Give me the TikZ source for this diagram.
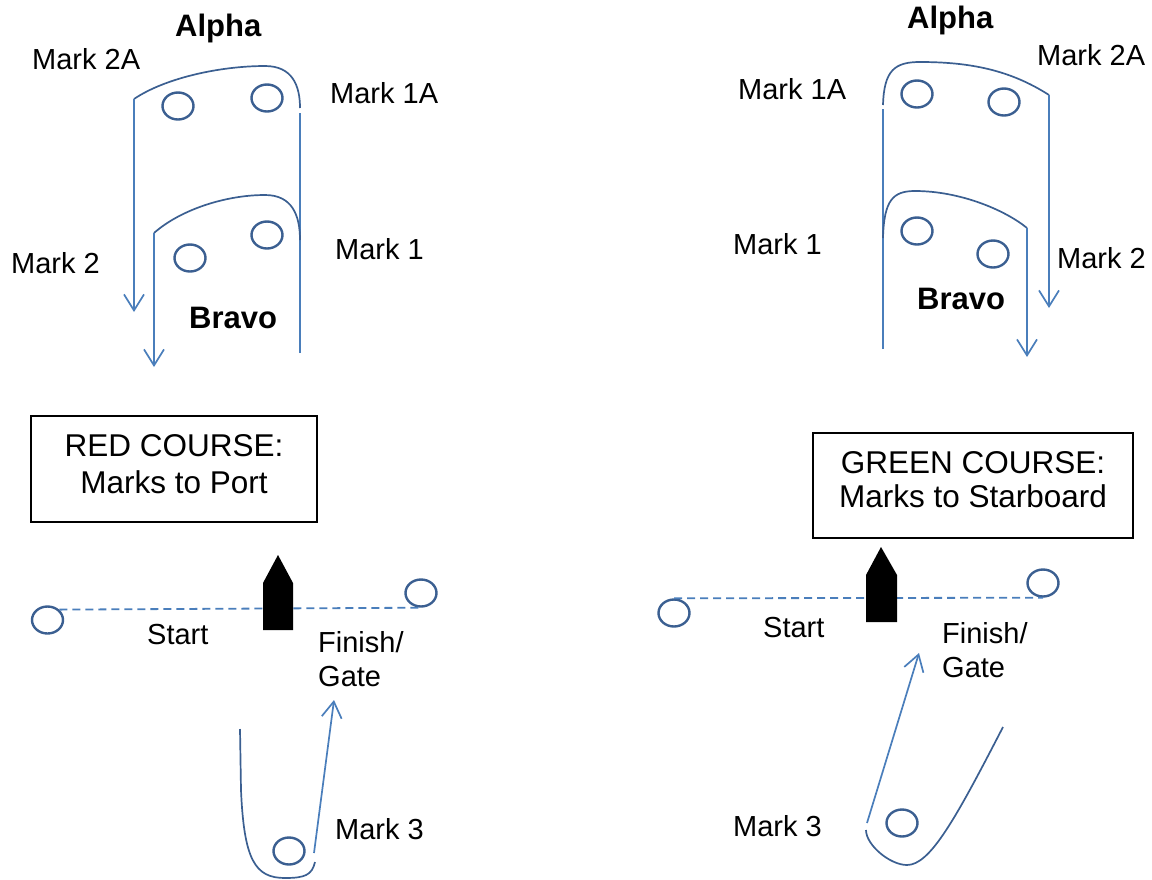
\documentclass[tikz,border=0pt]{standalone}
\usepackage{fontspec}
\setmainfont{Liberation Sans}
\usetikzlibrary{arrows.meta,shapes.geometric}
\definecolor{buoyblue}{RGB}{59,95,145}
\definecolor{trackblue}{RGB}{74,126,187}

\begin{document}
\begin{tikzpicture}[x=1pt, y=-1pt,
    buoy/.style={draw=buoyblue, line width=2.4pt, ellipse, minimum width=31pt, minimum height=27pt, inner sep=0pt},
    track/.style={draw=trackblue, line width=1.7pt, >={Straight Barb[length=16pt,width=20pt]}},
    rounding/.style={draw=buoyblue, line width=1.7pt},
    gate/.style={draw=trackblue, line width=1.8pt, dash pattern=on 8pt off 5pt},
    lbl/.style={font=\fontsize{29}{34}\selectfont, inner sep=0pt, anchor=base west},
    bold/.style={lbl, font=\fontsize{31}{36}\selectfont\bfseries},
    coursebox/.style={draw, line width=1.2pt, inner sep=0pt},
    boxtxt/.style={font=\fontsize{31.5}{36}\selectfont, inner sep=0pt, anchor=base}]
  \useasboundingbox (0,0) rectangle (1152,879);

  % red course (left)
  \node[buoy] (ra1) at (267,98) {};
  \node[buoy] (ra2) at (178,106) {};
  \node[buoy] (rb1) at (267,235) {};
  \node[buoy] (rb2) at (190,258) {};
  \draw[track] (300,353) -- (300,113);
  \draw[rounding] (300,108) .. controls (300,85) and (292,66) .. (265,66) .. controls (220,66) and (165,78) .. (134,99);
  \draw[track, ->] (134,99) -- (134,312);
  \draw[rounding] (300,240) .. controls (300,215) and (292,195) .. (265,195) .. controls (225,195) and (180,210) .. (154,233);
  \draw[track, ->] (154,233) -- (154,367);
  \node[bold] at (175,36) {Alpha};
  \node[lbl] at (32,69) {Mark 2A};
  \node[lbl] at (330,103) {Mark 1A};
  \node[lbl] at (11,273) {Mark 2};
  \node[lbl] at (335,259) {Mark 1};
  \node[bold] at (189,328) {Bravo};

  \node[coursebox, minimum width=286pt, minimum height=106pt] (redbox) at (174,469) {};
  \node[boxtxt] at (174,456) {RED COURSE:};
  \node[boxtxt] at (174,493) {Marks to Port};

  \node[buoy] (rs) at (47.5,620) {};
  \node[buoy] (rf) at (421,593) {};
  \draw[gate] (rs.north east) -- (rf.south);
  \fill (263,630) -- (263,583) -- (278,555) -- (293,583) -- (293,630) -- cycle;
  \node[lbl] at (147,644) {Start};
  \node[lbl] at (318,652) {Finish/};
  \node[lbl] at (318,686) {Gate};

  \node[buoy] (r3) at (289,851) {};
  \draw[rounding] (240,729) -- (241,790) .. controls (244,860) and (255,878) .. (285,878) .. controls (305,878) and (312,875) .. (315,862);
  \draw[track, ->] (314,853) -- (334,700);
  \node[lbl] at (335,839) {Mark 3};

  % green course (right)
  \node[buoy] (ga1) at (917,94) {};
  \node[buoy] (ga2) at (1004,102) {};
  \node[buoy] (gb1) at (917,231) {};
  \node[buoy] (gb2) at (993,254) {};
  \draw[track] (883,349) -- (883,109);
  \draw[rounding] (883,105) .. controls (884,70) and (895,62) .. (920,62) .. controls (970,62) and (1010,70) .. (1049,95);
  \draw[track, ->] (1049,95) -- (1049,308);
  \draw[rounding] (883,238) .. controls (884,200) and (893,191) .. (915,191) .. controls (960,191) and (1005,210) .. (1027,228);
  \draw[track, ->] (1027,228) -- (1027,357);
  \node[bold] at (907,28) {Alpha};
  \node[lbl] at (1037,65) {Mark 2A};
  \node[lbl] at (738,99) {Mark 1A};
  \node[lbl] at (733,254) {Mark 1};
  \node[lbl] at (1057,268) {Mark 2};
  \node[bold] at (917,309) {Bravo};

  \node[coursebox, minimum width=320pt, minimum height=105pt] (greenbox) at (973,485.5) {};
  \node[boxtxt] at (973,473) {GREEN COURSE:};
  \node[boxtxt] at (973,507) {Marks to Starboard};

  \node[buoy] (gs) at (674,613) {};
  \node[buoy] (gf) at (1043,583) {};
  \draw[gate] (gs.north) -- (gf.south);
  \fill (866,622) -- (866,575) -- (881,547) -- (897,575) -- (897,622) -- cycle;
  \node[lbl] at (763,637) {Start};
  \node[lbl] at (942,643) {Finish/};
  \node[lbl] at (942,677) {Gate};

  \node[buoy] (g3) at (902,823) {};
  \draw[track, ->] (867,823) -- (919,653);
  \draw[rounding] (866,830) .. controls (866,845) and (890,865) .. (907,865) .. controls (930,865) and (955,820) .. (1003,727);
  \node[lbl] at (733,836) {Mark 3};
\end{tikzpicture}
\end{document}
